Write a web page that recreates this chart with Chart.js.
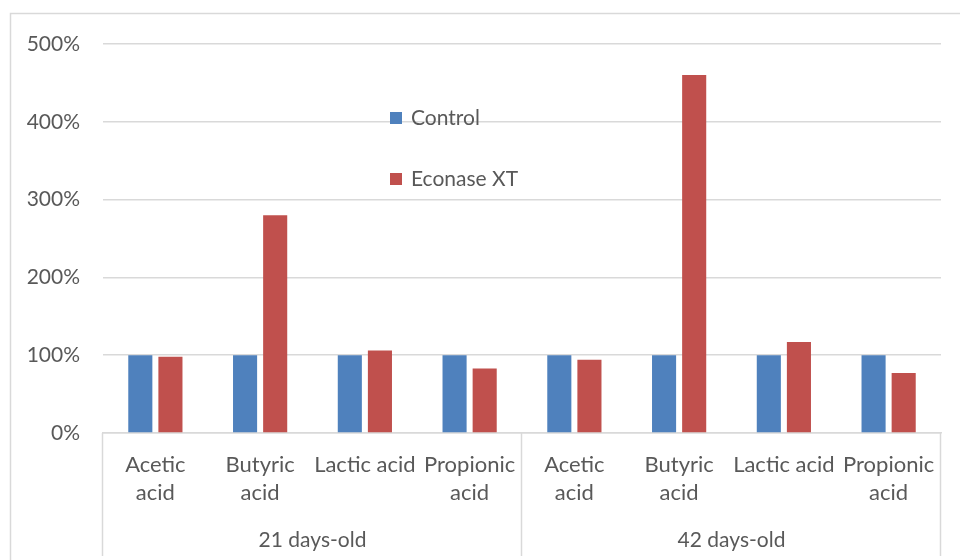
<!DOCTYPE html>
<html>
<head>
<meta charset="utf-8">
<title>Short-chain fatty acids</title>
<script src="https://cdn.jsdelivr.net/npm/chart.js@4.4.1/dist/chart.umd.min.js"></script>
<style>
  html, body { margin: 0; padding: 0; background: #ffffff; }
  #wrap { width: 960px; height: 560px; position: relative; }
</style>
</head>
<body>
<div id="wrap"><canvas id="c" width="960" height="560"></canvas></div>
<script>
// Acid categories, repeated for each age group
const categories = [
  ['Acetic', 'acid'], ['Butyric', 'acid'], 'Lactic acid', ['Propionic', 'acid'],
  ['Acetic', 'acid'], ['Butyric', 'acid'], 'Lactic acid', ['Propionic', 'acid']
];
const ageGroups = ['21 days-old', '42 days-old'];
const seriesNames = ['Control', 'Econase XT'];

// Relative concentration, % of control
const controlValues = [100, 100, 100, 100, 100, 100, 100, 100];
const econaseValues = [98, 280, 106, 83, 94, 460, 117, 77];

const yTicks = [0, 100, 200, 300, 400, 500];

const FONT = 'Lato, "Open Sans", "Liberation Sans", sans-serif';
const TEXT = '#595959';
const GRID = '#d9d9d9';

// Frame line along the left and top edge of the chart object
const framePlugin = {
  id: 'frame',
  beforeDraw(chart) {
    const ctx = chart.ctx;
    ctx.save();
    ctx.strokeStyle = GRID;
    ctx.lineWidth = 1.5;
    ctx.beginPath();
    ctx.moveTo(10.5, chart.height);
    ctx.lineTo(10.5, 13.5);
    ctx.lineTo(chart.width, 13.5);
    ctx.stroke();
    ctx.restore();
  }
};

// Vertical separators between the two age groups on the category axis
const groupDividers = {
  id: 'groupDividers',
  afterDraw(chart) {
    const x = chart.scales.x;
    const n = categories.length;
    const per = n / ageGroups.length;
    const ctx = chart.ctx;
    ctx.save();
    ctx.strokeStyle = GRID;
    ctx.lineWidth = 1.5;
    for (let g = 0; g <= ageGroups.length; g++) {
      const px = Math.round(x.left + x.width * (g * per) / n) - 0.5;
      ctx.beginPath();
      ctx.moveTo(px, chart.chartArea.bottom);
      ctx.lineTo(px, chart.height - 4);
      ctx.stroke();
    }
    ctx.restore();
  }
};

// Legend placed inside the plot area, one entry per row
const innerLegend = {
  id: 'innerLegend',
  afterDraw(chart, args, opts) {
    const ctx = chart.ctx;
    ctx.save();
    ctx.font = '21px ' + FONT;
    ctx.textBaseline = 'middle';
    chart.data.datasets.forEach((ds, i) => {
      const y = opts.y + i * opts.rowGap;
      ctx.fillStyle = ds.backgroundColor;
      ctx.fillRect(opts.x, y - 6, 12, 12);
      ctx.fillStyle = TEXT;
      ctx.fillText(ds.label, opts.x + 21, y);
    });
    ctx.restore();
  }
};

new Chart(document.getElementById('c'), {
  type: 'bar',
  data: {
    labels: categories,
    datasets: [
      { label: seriesNames[0], data: controlValues, backgroundColor: '#4F81BD' },
      { label: seriesNames[1], data: econaseValues, backgroundColor: '#C0504D' }
    ]
  },
  plugins: [framePlugin, groupDividers, innerLegend],
  options: {
    responsive: false,
    animation: false,
    layout: { padding: { left: 0, right: 19, top: 44, bottom: 0 } },
    datasets: { bar: { categoryPercentage: 0.575, barPercentage: 0.8 } },
    plugins: {
      legend: { display: false },
      tooltip: { enabled: false },
      innerLegend: { x: 390, y: 118, rowGap: 61 }
    },
    scales: {
      y: {
        min: 0, max: 500,
        afterBuildTicks(scale) { scale.ticks = yTicks.map(v => ({ value: v })); },
        afterFit(scale) { scale.width = 103; },
        grid: { color: GRID, lineWidth: 1.5, drawTicks: false },
        border: { display: false },
        ticks: {
          padding: 23,
          color: TEXT,
          font: { family: FONT, size: 21 },
          callback: v => v + '%'
        }
      },
      x: {
        afterFit(scale) { scale.height = 87; },
        grid: { display: false },
        border: { display: true, color: GRID, width: 1.5 },
        ticks: {
          color: TEXT,
          padding: 10,
          maxRotation: 0, autoSkip: false,
          font: { family: FONT, size: 22, lineHeight: 1.28 }
        }
      },
      x2: {
        type: 'category',
        position: 'bottom',
        labels: ageGroups,
        offset: true,
        afterFit(scale) { scale.height = 40; },
        grid: { display: false },
        border: { display: false },
        ticks: {
          color: TEXT,
          padding: 0,
          maxRotation: 0,
          font: { family: FONT, size: 21 }
        }
      }
    }
  }
});
</script>
</body>
</html>
